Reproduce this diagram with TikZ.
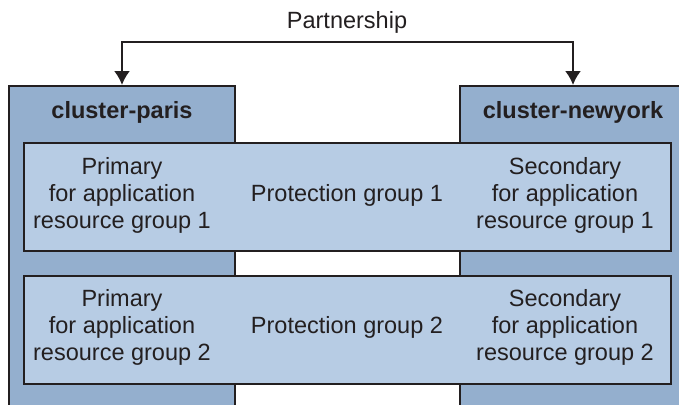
\documentclass[tikz,border=0pt]{standalone}
\usepackage{fontspec}
\setmainfont{Liberation Sans}
\usetikzlibrary{arrows.meta,shapes}
\definecolor{clusterblue}{HTML}{94AFCE}
\definecolor{groupblue}{HTML}{B7CCE4}
\definecolor{ink}{HTML}{231F20}

\begin{document}
\begin{tikzpicture}[x=1pt,y=-1pt,font=\fontsize{23.5}{27}\selectfont,text=ink]
        \useasboundingbox (0,0) rectangle (679,404);
        \clip (0,0) rectangle (679,404);
        \tikzset{cluster/.style={draw=ink,line width=2pt,fill=clusterblue,minimum width=226pt,minimum height=340pt,anchor=north}}
        \tikzset{group/.style={draw=ink,line width=2pt,fill=groupblue,minimum width=647pt,minimum height=108pt}}
        \tikzset{fleche/.style={-{Latex[length=14pt,width=16pt]},line width=2pt,draw=ink}}
        \node[cluster] (CP) at (122,85) {};
        \node[cluster] (CN) at (573,85) {};
        \node[font=\fontsize{23.5}{27}\selectfont\bfseries] (CPN) at (122,112) {cluster-paris};
        \node[font=\fontsize{23.5}{27}\selectfont\bfseries] (CNN) at (573,112) {cluster-newyork};
        \node[group] (PG1) at (347.5,197) {};
        \node[group] (PG2) at (347.5,329.5) {};
        \node[align=center] (P1) at (122,195) {Primary\\for application\\resource group 1};
        \node (G1) at (347,195) {Protection group 1};
        \node[align=center] (S1) at (565,195) {Secondary\\for application\\resource group 1};
        \node[align=center] (P2) at (122,327) {Primary\\for application\\resource group 2};
        \node (G2) at (347,327) {Protection group 2};
        \node[align=center] (S2) at (565,327) {Secondary\\for application\\resource group 2};
        \node (PS) at (347,22) {Partnership};
        \coordinate (T) at (347,42);
        \draw[fleche] (T) -| (CP.north);
        \draw[fleche] (T) -| (CN.north);
\end{tikzpicture}
\end{document}
